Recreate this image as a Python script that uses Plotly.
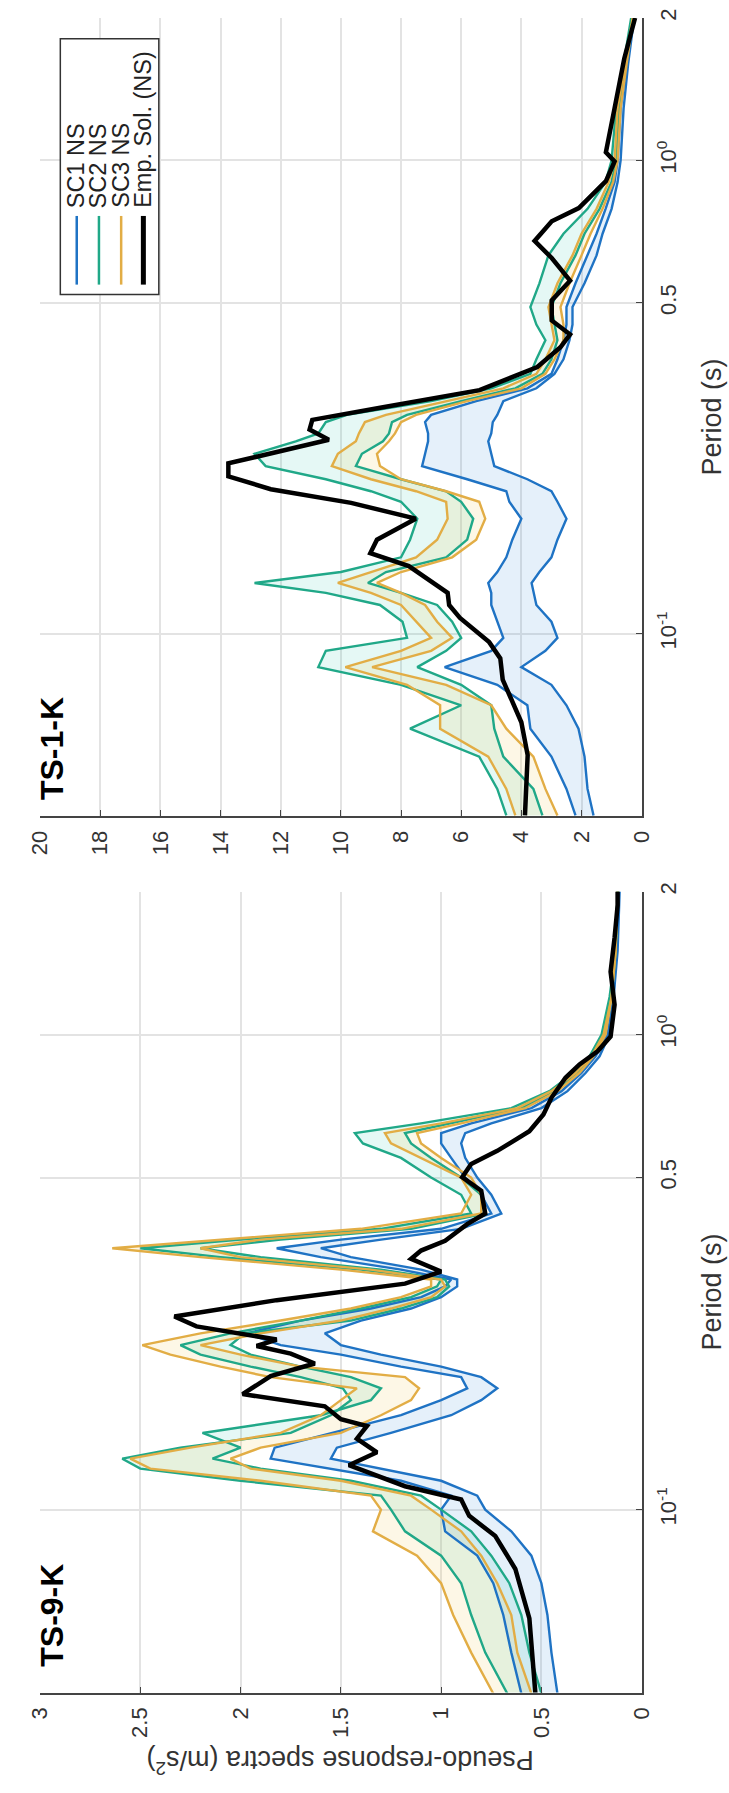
import plotly.graph_objects as go

W, H = 729, 1793

# ---------------- TS-1-K (upper panel) ----------------
ts1_period = [0.0413, 0.047, 0.055, 0.063, 0.0706, 0.078, 0.085, 0.092, 0.098, 0.106,
              0.115, 0.122, 0.128, 0.135, 0.145, 0.158, 0.175, 0.19, 0.2, 0.212,
              0.226, 0.24, 0.255, 0.265, 0.28, 0.29, 0.31, 0.33, 0.354, 0.38,
              0.417, 0.45, 0.49, 0.55, 0.63, 0.7, 0.79, 0.9, 1.0, 1.29, 1.6, 2.0]
ts1_sc1_a = [2.2, 2.5, 3.0, 3.7, 3.8, 4.8, 6.55, 5.0, 4.6, 4.8, 5.0, 5.0, 5.1, 4.8, 4.5, 4.3,
             4.0, 4.4, 4.5, 5.8, 7.3, 7.2, 7.1, 7.1, 7.2, 7.0, 5.5, 3.8, 3.0, 2.8, 2.6, 2.5,
             2.5, 2.2, 1.8, 1.5, 1.2, 0.9, 0.8, 0.7, 0.5, 0.28]
ts1_sc1_b = [1.6, 1.8, 1.9, 2.1, 2.5, 3.0, 4.0, 3.2, 2.8, 3.0, 3.5, 3.6, 3.66, 3.4, 3.0, 2.8,
             2.5, 2.8, 3.0, 3.8, 4.9, 5.0, 5.1, 5.0, 4.95, 4.8, 4.6, 3.5, 2.9, 2.6, 2.4, 2.3,
             2.3, 1.9, 1.5, 1.3, 1.0, 0.8, 0.7, 0.6, 0.45, 0.25]
ts1_sc2_a = [4.5, 4.8, 5.4, 7.7, 6.0, 8.0, 10.75, 10.5, 7.8, 7.95, 8.7, 10.5, 12.87, 10.0,
             8.0, 7.7, 7.46, 8.0, 9.0, 10.5, 12.5, 12.87, 11.5, 10.75, 10.5, 9.8, 7.0, 5.0,
             3.7, 3.5, 3.2, 3.5, 3.7, 3.4, 3.1, 2.6, 1.8, 1.2, 1.0, 0.85, 0.6, 0.35]
ts1_sc2_b = [3.3, 3.6, 4.6, 4.9, 5.0, 6.0, 7.46, 6.5, 6.0, 6.3, 6.8, 8.0, 9.1, 8.5, 6.5, 5.8,
             5.6, 6.0, 6.5, 8.0, 9.5, 9.3, 8.6, 8.4, 8.3, 7.8, 6.0, 4.2, 3.3, 3.0, 2.8, 2.9,
             3.0, 2.7, 2.2, 1.9, 1.4, 1.0, 0.85, 0.75, 0.55, 0.3]
ts1_sc3_a = [4.2, 4.5, 5.1, 6.7, 6.7, 7.8, 9.85, 8.0, 7.0, 7.5, 8.0, 9.0, 10.1, 9.0, 7.5, 6.8,
             6.45, 6.5, 7.5, 9.0, 10.3, 10.1, 9.5, 9.4, 9.2, 8.5, 6.5, 4.6, 3.5, 3.2, 2.9,
             3.0, 3.1, 2.8, 2.3, 2.0, 1.5, 1.1, 0.9, 0.8, 0.55, 0.3]
ts1_sc3_b = [2.8, 3.2, 3.6, 4.5, 5.0, 6.5, 8.96, 7.0, 6.3, 6.8, 7.2, 8.0, 8.8, 8.0, 6.3, 5.5,
             5.2, 5.4, 6.5, 8.0, 8.7, 8.8, 8.4, 8.2, 8.0, 7.5, 5.8, 4.0, 3.2, 2.9, 2.6, 2.6,
             2.7, 2.4, 2.0, 1.7, 1.3, 0.95, 0.8, 0.7, 0.5, 0.28]
ts1_emp_period = [0.0413, 0.0554, 0.065, 0.073, 0.080, 0.0887, 0.096, 0.108, 0.115, 0.122,
                  0.139, 0.148, 0.158, 0.175, 0.189, 0.202, 0.215, 0.229, 0.245, 0.257,
                  0.270, 0.283, 0.301, 0.327, 0.366, 0.403, 0.429, 0.459, 0.489, 0.506,
                  0.557, 0.622, 0.676, 0.744, 0.793, 0.904, 0.995, 1.04, 1.29, 1.64, 2.0]
ts1_emp = [3.88, 3.79, 4.0, 4.33, 4.62, 4.7, 5.07, 6.04, 6.4, 6.45, 7.74, 9.02, 8.8, 7.51,
           9.66, 12.33, 13.74, 13.74, 11.8, 10.4, 11.04, 10.95, 8.6, 5.39, 3.47, 2.70, 2.38,
           2.99, 2.99, 2.99, 2.38, 2.99, 3.56, 2.99, 2.09, 1.19, 0.90, 1.19, 0.90, 0.58, 0.22]

# ---------------- TS-9-K (lower panel) ----------------
ts9_period = [0.041, 0.05, 0.06, 0.07, 0.08, 0.09, 0.1, 0.107, 0.115, 0.122, 0.128, 0.135,
              0.145, 0.158, 0.17, 0.18, 0.19, 0.2, 0.212, 0.222, 0.235, 0.25, 0.265, 0.28,
              0.295, 0.305, 0.32, 0.34, 0.355, 0.37, 0.39, 0.42, 0.46, 0.5, 0.55, 0.59,
              0.62, 0.65, 0.7, 0.76, 0.83, 0.9, 1.0, 1.2, 1.5, 2.0]
ts9_sc1_a = [0.6, 0.65, 0.69, 0.74, 0.82, 0.98, 1.0, 0.95, 1.2, 1.55, 1.85, 1.83, 1.55, 1.2,
             1.0, 0.87, 0.9, 1.2, 1.5, 1.8, 1.97, 1.7, 1.35, 1.1, 0.98, 0.95, 1.2, 1.6, 1.82,
             1.5, 1.0, 0.75, 0.8, 0.88, 0.95, 1.0, 1.0, 0.85, 0.55, 0.4, 0.3, 0.23, 0.17,
             0.14, 0.13, 0.12]
ts9_sc1_b = [0.42, 0.45, 0.47, 0.5, 0.55, 0.65, 0.78, 0.82, 1.0, 1.3, 1.55, 1.52, 1.25, 0.95,
             0.8, 0.72, 0.8, 1.0, 1.3, 1.5, 1.58, 1.4, 1.15, 1.0, 0.92, 0.92, 1.1, 1.45, 1.6,
             1.3, 0.9, 0.7, 0.75, 0.82, 0.88, 0.9, 0.88, 0.75, 0.5, 0.37, 0.28, 0.21, 0.16,
             0.14, 0.12, 0.11]
ts9_sc2_a = [0.67, 0.78, 0.85, 0.9, 1.0, 1.18, 1.25, 1.3, 2.0, 2.5, 2.59, 2.3, 1.75, 1.55,
             1.45, 1.49, 1.7, 1.95, 2.2, 2.3, 2.05, 1.7, 1.4, 1.15, 1.02, 1.0, 1.4, 2.1, 2.5,
             2.0, 1.3, 0.85, 0.9, 1.05, 1.2, 1.39, 1.43, 1.1, 0.65, 0.46, 0.34, 0.26, 0.2,
             0.16, 0.13, 0.12]
ts9_sc2_b = [0.5, 0.56, 0.6, 0.66, 0.75, 0.85, 1.0, 1.1, 1.45, 1.9, 2.14, 2.0, 2.19, 1.6,
             1.35, 1.3, 1.45, 1.7, 1.95, 2.05, 1.98, 1.45, 1.2, 1.02, 0.96, 0.98, 1.3, 1.9,
             2.2, 1.8, 1.15, 0.78, 0.8, 0.9, 1.05, 1.15, 1.18, 0.95, 0.6, 0.43, 0.32, 0.25,
             0.19, 0.15, 0.13, 0.12]
ts9_sc3_a = [0.74, 0.85, 0.94, 1.0, 1.12, 1.34, 1.3, 1.35, 1.9, 2.45, 2.55, 2.25, 1.8, 1.6,
             1.5, 1.42, 1.85, 2.1, 2.35, 2.49, 2.2, 1.8, 1.45, 1.2, 1.05, 1.05, 1.5, 2.2,
             2.64, 2.1, 1.4, 0.9, 0.85, 0.9, 1.1, 1.25, 1.28, 1.0, 0.62, 0.45, 0.33, 0.25,
             0.19, 0.15, 0.13, 0.12]
ts9_sc3_b = [0.55, 0.62, 0.65, 0.72, 0.8, 0.9, 1.05, 1.15, 1.5, 1.95, 2.05, 1.9, 1.5, 1.3,
             1.15, 1.11, 1.18, 1.7, 2.0, 2.2, 1.9, 1.5, 1.25, 1.05, 0.98, 1.0, 1.35, 2.0,
             2.2, 1.9, 1.2, 0.8, 0.8, 0.85, 1.0, 1.1, 1.12, 0.9, 0.58, 0.42, 0.31, 0.24,
             0.18, 0.15, 0.13, 0.12]
ts9_emp_period = [0.041, 0.059, 0.075, 0.088, 0.097, 0.105, 0.112, 0.124, 0.132, 0.141,
                  0.150, 0.155, 0.165, 0.175, 0.191, 0.203, 0.213, 0.221, 0.228, 0.243,
                  0.255, 0.276, 0.299, 0.317, 0.337, 0.351, 0.368, 0.399, 0.42, 0.469,
                  0.501, 0.534, 0.569, 0.626, 0.679, 0.736, 0.811, 0.865, 0.922, 0.99,
                  1.156, 1.356, 1.6, 1.87, 2.0]
ts9_emp = [0.53, 0.56, 0.63, 0.73, 0.86, 0.9, 1.18, 1.46, 1.32, 1.42, 1.37, 1.5, 1.58, 1.99,
           1.85, 1.63, 1.75, 1.92, 1.82, 2.22, 2.33, 1.82, 1.18, 1.0, 1.15, 1.10, 0.98, 0.87,
           0.78, 0.80, 0.895, 0.85, 0.72, 0.56, 0.49, 0.45, 0.38, 0.31, 0.22, 0.155, 0.135,
           0.155, 0.135, 0.12, 0.12]

period_ticks = [0.1, 0.5, 1, 2]
period_ticktext = ["10<sup>-1</sup>", "0.5", "10<sup>0</sup>", "2"]
legend_names = ["SC1 NS", "SC2 NS", "SC3 NS", "Emp. Sol. (NS)"]

C_SC1 = "#1f73c4"
C_SC2 = "#20a888"
C_SC3 = "#e2ad45"
FILLS = ["rgba(40,130,210,0.12)", "rgba(40,200,170,0.12)", "rgba(240,200,80,0.14)"]
FONT = "Liberation Sans, Arial, Helvetica, sans-serif"
AX = "#444444"


# pixel -> paper helpers (the figure is laid out a quarter turn round)
def px_x(p):
    return p / W


def px_y(p):
    return 1 - p / H


fig = go.Figure()


def add_panel(xa, ya, period, pairs, emp_period, emp):
    for (a, b), fc in zip(pairs, FILLS):
        fig.add_trace(go.Scatter(x=a + b[::-1], y=period + period[::-1], fill="toself",
                                 fillcolor=fc, line=dict(width=0), mode="lines",
                                 hoverinfo="skip", showlegend=False, xaxis=xa, yaxis=ya))
    for (a, b), col in zip(pairs, [C_SC1, C_SC2, C_SC3]):
        for s in (a, b):
            fig.add_trace(go.Scatter(x=s, y=period, mode="lines",
                                     line=dict(color=col, width=2.4),
                                     showlegend=False, xaxis=xa, yaxis=ya))
    fig.add_trace(go.Scatter(x=emp, y=emp_period, mode="lines",
                             line=dict(color="black", width=4.5),
                             showlegend=False, xaxis=xa, yaxis=ya))


add_panel("x", "y", ts1_period,
          [(ts1_sc1_a, ts1_sc1_b), (ts1_sc2_a, ts1_sc2_b), (ts1_sc3_a, ts1_sc3_b)],
          ts1_emp_period, ts1_emp)
add_panel("x2", "y2", ts9_period,
          [(ts9_sc1_a, ts9_sc1_b), (ts9_sc2_a, ts9_sc2_b), (ts9_sc3_a, ts9_sc3_b)],
          ts9_emp_period, ts9_emp)

x_dom = [px_x(28), px_x(651)]
value_axis = dict(domain=x_dom, autorange=False, showgrid=True, gridcolor="#e3e3e3",
                  gridwidth=1.5, zeroline=False, showline=True, linecolor=AX, linewidth=2,
                  ticks="inside", ticklen=6, tickcolor=AX, tickangle=-90,
                  ticklabelstandoff=4,
                  tickfont=dict(family=FONT, size=22, color="#333333"))
period_axis = dict(type="log", range=[-1.385, 0.301], side="right", showgrid=True,
                   gridcolor="#e3e3e3", gridwidth=1.5, zeroline=False, showline=True,
                   linecolor=AX, linewidth=2, ticks="inside", ticklen=6, tickcolor=AX,
                   tickvals=period_ticks, ticktext=period_ticktext, tickangle=-90,
                   ticklabelstandoff=6,
                   tickfont=dict(family=FONT, size=22, color="#333333"),
                   title=dict(text="Period (s)", font=dict(family=FONT, size=27, color="#333333"),
                              standoff=22))

fig.update_layout(
    width=W, height=H, margin=dict(l=0, r=0, t=0, b=0),
    paper_bgcolor="white", plot_bgcolor="white", showlegend=False,
    xaxis=dict(value_axis, range=[20, 0], tickvals=list(range(0, 21, 2)), anchor="y"),
    yaxis=dict(period_axis, domain=[px_y(811), px_y(9)], anchor="x"),
    xaxis2=dict(value_axis, range=[3, 0], tickvals=[0, 0.5, 1, 1.5, 2, 2.5, 3],
                ticktext=["0", "0.5", "1", "1.5", "2", "2.5", "3"], anchor="y2"),
    yaxis2=dict(period_axis, domain=[px_y(1692), px_y(887)], anchor="x2"),
)

annotations = [
    dict(text="<b>TS-1-K</b>", x=px_x(41), y=px_y(797), xref="paper", yref="paper",
         textangle=-90, xanchor="center", yanchor="bottom", showarrow=False,
         font=dict(family=FONT, size=32, color="black")),
    dict(text="<b>TS-9-K</b>", x=px_x(41), y=px_y(1668), xref="paper", yref="paper",
         textangle=-90, xanchor="center", yanchor="bottom", showarrow=False,
         font=dict(family=FONT, size=32, color="black")),
    dict(text="Pseudo-response spectra (m/s<sup>2</sup>)", x=px_x(339), y=px_y(1762),
         xref="paper", yref="paper", textangle=180, xanchor="center", yanchor="middle",
         showarrow=False, font=dict(family=FONT, size=27, color="#333333")),
]

# legend box, turned like the rest of the figure
shapes = [dict(type="rect", xref="paper", yref="paper", x0=px_x(49), x1=px_x(151),
               y0=px_y(287), y1=px_y(30), line=dict(color="#333333", width=1.5),
               fillcolor="white", layer="above")]
leg_x = [66, 89, 112, 135]
leg_cols = [C_SC1, C_SC2, C_SC3, "black"]
leg_w = [2.5, 2.5, 2.5, 5]
for name, lx, col, lw in zip(legend_names, leg_x, leg_cols, leg_w):
    shapes.append(dict(type="line", xref="paper", yref="paper", x0=px_x(lx), x1=px_x(lx),
                       y0=px_y(277), y1=px_y(208), line=dict(color=col, width=lw),
                       layer="above"))
    annotations.append(dict(text=name, x=px_x(lx), y=px_y(202), xref="paper", yref="paper",
                            textangle=-90, xanchor="center", yanchor="bottom",
                            showarrow=False,
                            font=dict(family=FONT, size=23.5, color="#222222")))

fig.update_layout(shapes=shapes, annotations=annotations)
fig.write_html("out.html")
